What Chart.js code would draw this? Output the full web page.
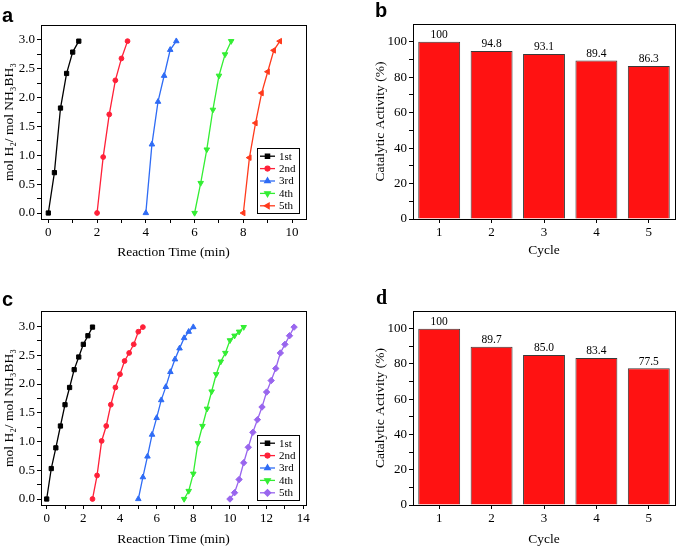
<!DOCTYPE html>
<html>
<head>
<meta charset="utf-8">
<script src="https://cdn.jsdelivr.net/npm/chart.js@4.4.1/dist/chart.umd.min.js"></script>
<style>
  body { margin: 0; background: #fff; width: 680px; height: 549px; position: relative; overflow: hidden; }
  .panel { position: absolute; }
  .tag { position: absolute; font: bold 20px "Liberation Sans", Arial, sans-serif; line-height: 20px; color: #000; }
</style>
</head>
<body>
<div class="panel" style="left:0;top:0"><canvas id="chartA" width="340" height="275"></canvas></div>
<div class="panel" style="left:340px;top:0"><canvas id="chartB" width="340" height="275"></canvas></div>
<div class="panel" style="left:0;top:275px"><canvas id="chartC" width="340" height="274"></canvas></div>
<div class="panel" style="left:340px;top:275px"><canvas id="chartD" width="340" height="274"></canvas></div>
<div class="tag" style="left:2px;top:5px">a</div>
<div class="tag" style="left:375px;top:0px">b</div>
<div class="tag" style="left:2px;top:289px">c</div>
<div class="tag" style="left:376px;top:287px;font-family:'Liberation Serif',serif">d</div>
<script>
// panel a: H2 released per cycle, first catalyst
const timeA1 = [0, 0.25, 0.5, 0.75, 1.0, 1.25];
const molA1 = [0, 0.70, 1.82, 2.42, 2.79, 2.98];
const timeA2 = [2.0, 2.25, 2.5, 2.75, 3.0, 3.25];
const molA2 = [0, 0.97, 1.71, 2.30, 2.68, 2.98];
const timeA3 = [4.0, 4.25, 4.5, 4.75, 5.0, 5.25];
const molA3 = [0, 1.19, 1.93, 2.38, 2.83, 2.98];
const timeA4 = [6.0, 6.25, 6.5, 6.75, 7.0, 7.25, 7.5];
const molA4 = [0, 0.52, 1.10, 1.79, 2.38, 2.75, 2.98];
const timeA5 = [8.0, 8.25, 8.5, 8.75, 9.0, 9.25, 9.5];
const molA5 = [0, 0.96, 1.56, 2.08, 2.45, 2.82, 2.98];

// panel c: second catalyst
const timeC1 = [0, 0.25, 0.5, 0.75, 1.0, 1.25, 1.5, 1.75, 2.0, 2.25, 2.5];
const molC1 = [0, 0.53, 0.89, 1.27, 1.64, 1.94, 2.25, 2.47, 2.69, 2.84, 2.99];
const timeC2 = [2.5, 2.75, 3.0, 3.25, 3.5, 3.75, 4.0, 4.25, 4.5, 4.75, 5.0, 5.25];
const molC2 = [0, 0.41, 1.01, 1.27, 1.64, 1.94, 2.17, 2.40, 2.54, 2.69, 2.91, 2.99];
const timeC3 = [5.0, 5.25, 5.5, 5.75, 6.0, 6.25, 6.5, 6.75, 7.0, 7.25, 7.5, 7.75, 8.0];
const molC3 = [0, 0.38, 0.74, 1.12, 1.41, 1.72, 1.95, 2.21, 2.43, 2.62, 2.80, 2.91, 2.99];
const timeC4 = [7.5, 7.75, 8.0, 8.25, 8.5, 8.75, 9.0, 9.25, 9.5, 9.75, 10.0, 10.25, 10.5, 10.75];
const molC4 = [0, 0.14, 0.44, 0.97, 1.27, 1.57, 1.87, 2.17, 2.39, 2.54, 2.76, 2.84, 2.91, 2.99];
const timeC5 = [10.0, 10.25, 10.5, 10.75, 11.0, 11.25, 11.5, 11.75, 12.0, 12.25, 12.5, 12.75, 13.0, 13.25, 13.5];
const molC5 = [0, 0.11, 0.34, 0.63, 0.90, 1.16, 1.38, 1.60, 1.86, 2.06, 2.27, 2.54, 2.69, 2.84, 2.99];

const runLabels = ["1st", "2nd", "3rd", "4th", "5th"];

// panels b / d
const cycles = ["1", "2", "3", "4", "5"];
const activityB = [100, 94.8, 93.1, 89.4, 86.3];
const activityD = [100, 89.7, 85.0, 83.4, 77.5];

// tick labels
const timeTicksA = [0, 2, 4, 6, 8, 10];
const timeMinorA = [1, 3, 5, 7, 9];
const timeTicksC = [0, 2, 4, 6, 8, 10, 12, 14];
const timeMinorC = [1, 3, 5, 7, 9, 11, 13];
const molTicks = [0, 0.5, 1.0, 1.5, 2.0, 2.5, 3.0];
const molMinor = [0.25, 0.75, 1.25, 1.75, 2.25, 2.75];
const actTicks = [0, 20, 40, 60, 80, 100];
const actMinor = [10, 30, 50, 70, 90];

const serif = "'Liberation Serif', 'Times New Roman', serif";
Chart.defaults.font.family = serif;
Chart.defaults.color = "#000";

const tickFont = { size: 13 };
const titleFont = { size: 13.5 };

const pts = (xs, ys) => xs.map((x, i) => ({ x: x, y: ys[i] }));

function run(label, xs, ys, color, style, rot, r) {
  return {
    label: label, data: pts(xs, ys), showLine: true,
    borderColor: color, backgroundColor: color, borderWidth: 1.3,
    pointStyle: style, pointRotation: rot, pointRadius: r, pointHoverRadius: r,
    pointBackgroundColor: color, pointBorderColor: color, pointBorderWidth: 1
  };
}

function axis(min, max, major, minor, fmt, title, titlePad, size, horiz) {
  return {
    type: "linear", min: min, max: max,
    afterBuildTicks: s => { s.ticks = major.concat(minor).sort((a, b) => a - b).map(v => ({ value: v })); },
    afterFit: s => { if (horiz) s.height = size; else s.width = size; },
    grid: { drawOnChartArea: false, tickLength: 4, color: "#000", tickColor: "#000" },
    border: { color: "#000", width: 1 },
    ticks: { color: "#000", font: tickFont, padding: 2, autoSkip: false, maxRotation: 0,
             callback: v => major.includes(v) ? fmt(v) : "" },
    title: { display: true, text: title, color: "#000", font: titleFont, padding: titlePad }
  };
}

// box round the plot, like the Origin frame
const frame = {
  id: "frame",
  afterDraw(chart) {
    const { ctx, chartArea: a } = chart;
    ctx.save();
    ctx.strokeStyle = "#000";
    ctx.lineWidth = 1;
    ctx.strokeRect(Math.round(a.left) + 0.5, Math.round(a.top) + 0.5, Math.round(a.right - a.left), Math.round(a.bottom - a.top));
    ctx.restore();
  }
};

// boxed legend in the lower right corner
const boxLegend = {
  id: "boxLegend",
  afterDraw(chart, args, opts) {
    if (!opts.show) return;
    const { ctx, chartArea: a } = chart;
    const sets = chart.data.datasets;
    const rowH = 12.4, w = 42, h = rowH * sets.length + 3;
    const x0 = a.right - opts.right - w, y0 = a.bottom - opts.bottom - h;
    ctx.save();
    ctx.fillStyle = "#fff";
    ctx.fillRect(x0, y0, w, h);
    ctx.strokeStyle = "#000";
    ctx.lineWidth = 1;
    ctx.strokeRect(Math.round(x0) + 0.5, Math.round(y0) + 0.5, w, h);
    ctx.font = "11px " + serif;
    ctx.textBaseline = "middle";
    sets.forEach((d, i) => {
      const y = y0 + 2 + rowH * (i + 0.5);
      ctx.strokeStyle = d.borderColor;
      ctx.lineWidth = 1.3;
      ctx.beginPath();
      ctx.moveTo(x0 + 3, y);
      ctx.lineTo(x0 + 18, y);
      ctx.stroke();
      ctx.fillStyle = d.backgroundColor;
      Chart.helpers.drawPoint(ctx, { pointStyle: d.pointStyle, rotation: d.pointRotation, radius: d.pointRadius, borderWidth: 1 }, x0 + 10.5, y);
      ctx.fillStyle = "#000";
      ctx.fillText(d.label, x0 + 22, y + 0.5);
    });
    ctx.restore();
  }
};

// numbers on top of the bars
const barValues = {
  id: "barValues",
  afterDatasetsDraw(chart) {
    const { ctx } = chart;
    const meta = chart.getDatasetMeta(0);
    const vals = chart.data.datasets[0].data;
    ctx.save();
    ctx.font = "11.5px " + serif;
    ctx.fillStyle = "#000";
    ctx.textAlign = "center";
    ctx.textBaseline = "bottom";
    meta.data.forEach((bar, i) => {
      const v = vals[i];
      ctx.fillText(v === 100 ? "100" : v.toFixed(1), bar.x, bar.y - 1);
    });
    ctx.restore();
  }
};

const yTitle = "mol H\u2082/ mol NH\u2083BH\u2083";

function lineChart(id, sets, xMin, xMax, xMajor, xMinor, yMin, yMax, pad, xH, xTitlePad, legendBottom) {
  new Chart(document.getElementById(id), {
    type: "scatter",
    data: { datasets: sets },
    options: {
      responsive: false, animation: false,
      layout: { padding: pad },
      plugins: { legend: { display: false }, tooltip: { enabled: false },
                 boxLegend: { show: true, right: 7, bottom: legendBottom } },
      scales: {
        x: axis(xMin, xMax, xMajor, xMinor, v => String(v), "Reaction Time (min)", { top: 0, bottom: xTitlePad }, xH, true),
        y: axis(yMin, yMax, molTicks, molMinor, v => v.toFixed(1), yTitle, { top: 1, bottom: 0 }, 41, false)
      }
    },
    plugins: [frame, boxLegend]
  });
}

function barChart(id, values, pad, xH, xTitlePad) {
  new Chart(document.getElementById(id), {
    type: "bar",
    data: { labels: cycles, datasets: [{ data: values, backgroundColor: "#ff1212", borderColor: "#3a3a3a", borderWidth: 1,
                                         barPercentage: 0.8, categoryPercentage: 1.0 }] },
    options: {
      responsive: false, animation: false,
      layout: { padding: pad },
      plugins: { legend: { display: false }, tooltip: { enabled: false } },
      scales: {
        x: {
          afterFit: s => { s.height = xH; },
          grid: { drawOnChartArea: false, offset: false, tickLength: 4, color: "#000", tickColor: "#000" },
          border: { color: "#000", width: 1 },
          ticks: { color: "#000", font: tickFont, padding: 2, maxRotation: 0 },
          title: { display: true, text: "Cycle", color: "#000", font: titleFont, padding: { top: 0, bottom: xTitlePad } }
        },
        y: axis(0, 110, actTicks, actMinor, v => String(v), "Catalytic Activity (%)", { top: 32, bottom: 0 }, 73, false)
      }
    },
    plugins: [frame, barValues]
  });
}

lineChart("chartA", [
  run(runLabels[0], timeA1, molA1, "#000000", "rect", 0, 3),
  run(runLabels[1], timeA2, molA2, "#ff2038", "circle", 0, 2.4),
  run(runLabels[2], timeA3, molA3, "#2f6cf5", "triangle", 0, 3.2),
  run(runLabels[3], timeA4, molA4, "#33ee33", "triangle", 180, 3.2),
  run(runLabels[4], timeA5, molA5, "#ff3a1c", "triangle", -90, 3.2)
], -0.3, 10.57, timeTicksA, timeMinorA, -0.104, 3.26, { left: 0, right: 34, top: 25, bottom: 0 }, 56, 14, 6);

lineChart("chartC", [
  run(runLabels[0], timeC1, molC1, "#000000", "rect", 0, 3),
  run(runLabels[1], timeC2, molC2, "#ff2038", "circle", 0, 2.4),
  run(runLabels[2], timeC3, molC3, "#2f6cf5", "triangle", 0, 3.2),
  run(runLabels[3], timeC4, molC4, "#33ee33", "triangle", 180, 3.2),
  run(runLabels[4], timeC5, molC5, "#9966ee", "rectRot", 0, 3.2)
], -0.31, 14.15, timeTicksC, timeMinorC, -0.104, 3.27, { left: 0, right: 34, top: 36, bottom: 0 }, 44, 1, 5);

barChart("chartB", activityB, { left: 0, right: 5, top: 24, bottom: 0 }, 56, 16);
barChart("chartD", activityD, { left: 0, right: 5, top: 36, bottom: 0 }, 44, 1);
</script>
</body>
</html>
